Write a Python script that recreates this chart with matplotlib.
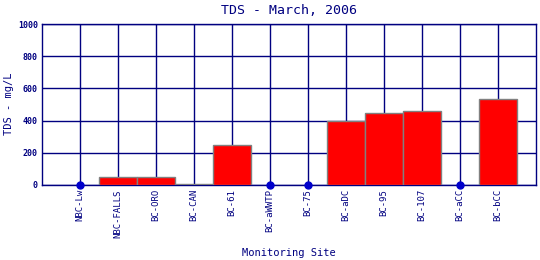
import matplotlib
matplotlib.use('Agg')
import matplotlib.pyplot as plt
import numpy as np

# données
sites = ['NBC-Lw', 'NBC-FALLS', 'BC-ORO', 'BC-CAN', 'BC-61', 'BC-aWWTP',
         'BC-75', 'BC-aDC', 'BC-95', 'BC-107', 'BC-aCC', 'BC-bCC']
tds = [0, 50, 50, 5, 250, 0, 0, 395, 450, 460, 0, 532]
# sites sans mesure -> point bleu sur l'axe
no_data = ['NBC-Lw', 'BC-aWWTP', 'BC-75', 'BC-aCC']

navy = '#000080'
plt.rcParams['font.family'] = ['DejaVu Sans Mono']

fig = plt.figure(figsize=(5.4, 2.6), dpi=100)
ax = fig.add_axes([42/540, 1 - 185/260, (536 - 42)/540, (185 - 24)/260])

x = np.arange(1, len(sites) + 1)
bar_x = [xi for xi, s in zip(x, sites) if s not in no_data]
bar_y = [v for v, s in zip(tds, sites) if s not in no_data]
dot_x = [xi for xi, s in zip(x, sites) if s in no_data]

ax.bar(bar_x, bar_y, width=1.0, color='red', edgecolor='gray', linewidth=1, zorder=3)
ax.plot(dot_x, [0]*len(dot_x), 'o', color='#0000cc', markersize=5, zorder=4, clip_on=False)

ax.set_xlim(0, 13)
ax.set_ylim(0, 1000)
ax.set_xticks(x)
ax.set_xticklabels(sites, rotation=90, fontsize=6.5, color=navy)
ax.set_yticks(np.arange(0, 1001, 200))
ax.set_yticklabels([str(v) for v in range(0, 1001, 200)], fontsize=6, color=navy, fontweight='bold')
ax.tick_params(length=0, pad=3)
ax.grid(True, color=navy, linewidth=1.0, zorder=0)
for sp in ax.spines.values():
    sp.set_color(navy)
    sp.set_linewidth(1.0)

fig.text(289/540, 1 - 10/260, 'TDS - March, 2006', fontsize=9.5, color=navy,
         ha='center', va='center')
fig.text(9/540, 1 - 104/260, 'TDS - mg/L', fontsize=7.5, color=navy,
         ha='center', va='center', rotation=90)
fig.text(289/540, 1 - 253/260, 'Monitoring Site', fontsize=7.5, color=navy,
         ha='center', va='center')

fig.savefig('out.png', dpi=100)
